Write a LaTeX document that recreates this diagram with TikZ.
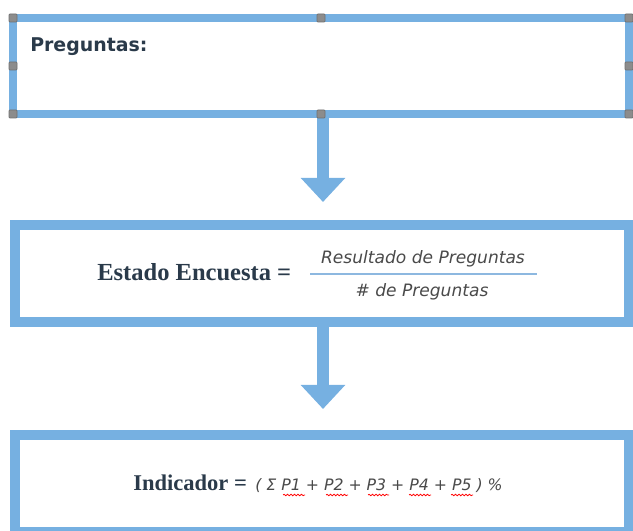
\documentclass[tikz,border=0pt]{standalone}
\usepackage{fontspec}
\setmainfont{Liberation Serif}
\newfontfamily\dvsans{DejaVu Sans}
\usetikzlibrary{arrows.meta,decorations.pathmorphing}
\definecolor{boxblue}{HTML}{76B0E1}
\definecolor{darktxt}{HTML}{2A3A4A}
\definecolor{graytxt}{HTML}{4A4A4A}
\definecolor{fracblue}{HTML}{8DB8E0}
\definecolor{handlefill}{HTML}{8C8C8C}
\definecolor{handledraw}{HTML}{707070}
\tikzset{
  frame/.style={draw=boxblue, fill=white, inner sep=0pt, outer sep=0pt},
  handle/.style={draw=handledraw, fill=handlefill, line width=0.5pt, minimum size=6pt, inner sep=0pt, rounded corners=0.6pt},
  flowarrow/.style={draw=boxblue, line width=9pt, -{Triangle[width=32.25pt,length=18pt]}},
  titletxt/.style={font=\dvsans\bfseries\fontsize{14.2pt}{16pt}\selectfont, text=darktxt, inner sep=0pt},
  serifbold/.style={font=\bfseries, text=darktxt, inner sep=0pt},
  mathtxt/.style={font=\dvsans\itshape, text=graytxt, inner sep=0pt},
  squig/.style={draw=red, line width=0.6pt, decorate, decoration={snake, amplitude=0.55pt, segment length=2.6pt}}
}
\begin{document}
\begin{tikzpicture}[x=0.75pt,y=-0.75pt]
\useasboundingbox (0,0) rectangle (633,531);
% boxes
\node[frame, line width=6pt, minimum width=462pt, minimum height=72pt] (b1) at (321,66) {};
\node[frame, line width=7.5pt, minimum width=460.5pt, minimum height=72.75pt] (b2) at (322,273.5) {};
\node[frame, line width=7.5pt, minimum width=460.5pt, minimum height=72.75pt] (b3) at (322,483.5) {};
% arrow end points
\coordinate (t1) at (323,202);
\coordinate (t2) at (323,409);
\coordinate (s1) at (323,114);
\coordinate (s2) at (323,322);
\draw[flowarrow] (s1) -- (t1);
\draw[flowarrow] (s2) -- (t2);
% selection handles
\node[handle] (h1) at (b1.north west) {};
\node[handle] (h2) at (b1.north) {};
\node[handle] (h3) at (b1.north east) {};
\node[handle] (h4) at (b1.west) {};
\node[handle] (h5) at (b1.east) {};
\node[handle] (h6) at (b1.south west) {};
\node[handle] (h7) at (b1.south) {};
\node[handle] (h8) at (b1.south east) {};
% texts
\node[titletxt, anchor=base west] (q) at (30,52) {Preguntas:};
\node[serifbold, anchor=base west, font=\bfseries\fontsize{18.4pt}{20pt}\selectfont] (ee) at (97,281) {Estado Encuesta =};
\node[mathtxt, anchor=base, font=\dvsans\itshape\fontsize{12.8pt}{14pt}\selectfont] (num) at (423,264) {Resultado de Preguntas};
\node[mathtxt, anchor=base, font=\dvsans\itshape\fontsize{12.8pt}{14pt}\selectfont] (den) at (422,297) {\# de Preguntas};
\coordinate (fl) at (310,274);
\coordinate (fr) at (537,274);
\draw[fracblue, line width=0.9pt] (fl) -- (fr);
\node[serifbold, anchor=base west, font=\bfseries\fontsize{16.9pt}{19pt}\selectfont] (ind) at (133,491) {Indicador =};
\node[mathtxt, anchor=base west, font=\dvsans\itshape\fontsize{11.8pt}{14pt}\selectfont] (form) at (255,491) {( Σ P1 + P2 + P3 + P4 + P5 ) \%};
% spell-check squiggles
\draw[squig] (283,495) -- (305,495);
\draw[squig] (326,495) -- (348,495);
\draw[squig] (368,495) -- (389,495);
\draw[squig] (409,495) -- (431,495);
\draw[squig] (451,495) -- (473,495);
\end{tikzpicture}
\end{document}
